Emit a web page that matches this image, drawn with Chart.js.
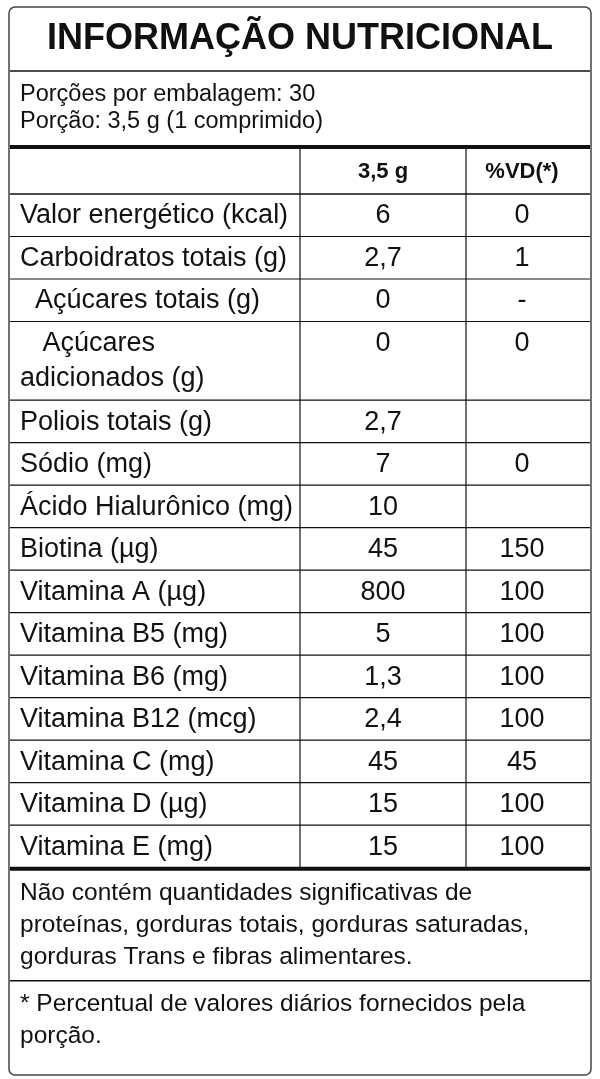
<!DOCTYPE html>
<html><head><meta charset="utf-8">
<script src="https://cdn.jsdelivr.net/npm/chart.js@4"></script>
<style>html,body{margin:0;padding:0;background:#fff}#wrap{width:600px;height:1079px}</style>
</head><body><div id="wrap"><canvas id="tabela"></canvas></div>
<script>
const title = 'INFORMAÇÃO NUTRICIONAL';
const portionLines = ['Porções por embalagem: 30', 'Porção: 3,5 g (1 comprimido)'];
const headers = ['', '3,5 g', '%VD(*)'];
const nutrients = ['Valor energético (kcal)', 'Carboidratos totais (g)', '  Açúcares totais (g)', '   Açúcares\nadicionados (g)',
  'Poliois totais (g)', 'Sódio (mg)', 'Ácido Hialurônico (mg)', 'Biotina (µg)', 'Vitamina A (µg)', 'Vitamina B5 (mg)',
  'Vitamina B6 (mg)', 'Vitamina B12 (mcg)', 'Vitamina C (mg)', 'Vitamina D (µg)', 'Vitamina E (mg)'];
const amounts = ['6', '2,7', '0', '0', '2,7', '7', '10', '45', '800', '5', '1,3', '2,4', '45', '15', '15'];
const dailyValues = ['0', '1', '-', '0', '', '0', '', '150', '100', '100', '100', '100', '45', '100', '100'];
const footerLines = ['Não contém quantidades significativas de', 'proteínas, gorduras totais, gorduras saturadas,', 'gorduras Trans e fibras alimentares.'];
const footnoteLines = ['* Percentual de valores diários fornecidos pela', 'porção.'];

// row heights in units (one text line = 1)
const rowUnits = nutrients.map(n => n.split('\n').length === 2 ? 1.85 : 1);

const tablePlugin = {
  id: 'tabela',
  afterDraw(chart) {
    const c = chart.ctx, xs = chart.scales.x, ys = chart.scales.y;
    const X = v => xs.getPixelForValue(v), Y = v => ys.getPixelForValue(v);
    const line = (y, w) => { c.lineWidth = w; c.strokeStyle = '#111'; c.beginPath(); c.moveTo(X(10), Y(y)); c.lineTo(X(590), Y(y)); c.stroke(); };
    c.save();
    c.fillStyle = '#111';
    c.lineWidth = 1.5; c.strokeStyle = '#444';
    c.beginPath(); c.roundRect(X(9), Y(7), X(591) - X(9), Y(1075) - Y(7), 6); c.stroke();
    c.textBaseline = 'middle';
    c.font = 'bold 36px "Liberation Sans", Arial';
    c.textAlign = 'center';
    c.fillText(title, X(300), Y(39));
    line(71, 1.5);
    c.font = '23.5px "Liberation Sans", Arial'; c.textAlign = 'left';
    portionLines.forEach((t, i) => c.fillText(t, X(20), Y(95 + i * 27)));
    line(147, 4);
    const col1 = 383, col2 = 522, rowH = 42.5;
    c.font = 'bold 22px "Liberation Sans", Arial'; c.textAlign = 'center';
    c.fillText(headers[1], X(col1), Y(172)); c.fillText(headers[2], X(col2), Y(172));
    let y = 194;
    line(y, 1.5);
    c.font = '27px "Liberation Sans", Arial';
    nutrients.forEach((n, i) => {
      const h = rowUnits[i] * rowH;
      const parts = n.split('\n');
      c.textAlign = 'left';
      parts.forEach((p, k) => c.fillText(p, X(20), Y(y + 22 + k * 35)));
      c.textAlign = 'center';
      c.fillText(amounts[i], X(col1), Y(y + 22));
      c.fillText(dailyValues[i], X(col2), Y(y + 22));
      y += h;
      if (i < nutrients.length - 1) line(y, 1.2);
    });
    c.lineWidth = 1.2;
    [300, 466].forEach(x => { c.beginPath(); c.moveTo(X(x), Y(149)); c.lineTo(X(x), Y(y)); c.stroke(); });
    line(y + 1, 4);
    c.font = '24.5px "Liberation Sans", Arial'; c.textAlign = 'left';
    footerLines.forEach((t, i) => c.fillText(t, X(20), Y(y + 26 + i * 32)));
    line(y + 113, 1.5);
    footnoteLines.forEach((t, i) => c.fillText(t, X(20), Y(y + 137 + i * 32)));
    c.restore();
  }
};

new Chart(document.getElementById('tabela').getContext('2d'), {
  type: 'scatter',
  data: { datasets: [{ data: [] }] },
  options: {
    responsive: true, maintainAspectRatio: false, animation: false,
    layout: { padding: 0 },
    plugins: { legend: { display: false }, tooltip: { enabled: false } },
    scales: {
      x: { type: 'linear', min: 0, max: 600, display: false },
      y: { type: 'linear', min: 0, max: 1079, reverse: true, display: false }
    }
  },
  plugins: [tablePlugin]
});
</script></body></html>
